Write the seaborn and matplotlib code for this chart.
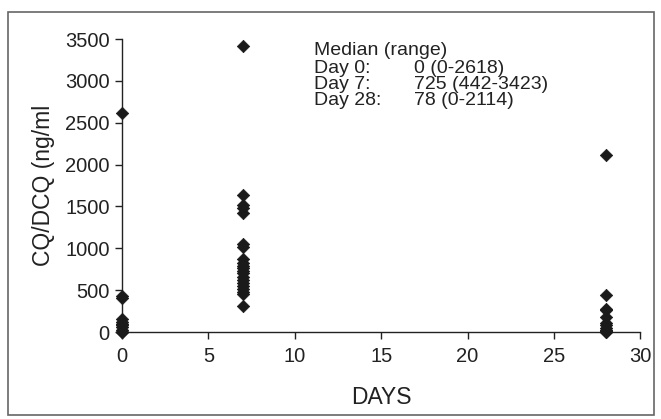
import matplotlib
matplotlib.use("Agg")
import matplotlib.pyplot as plt
import seaborn as sns
import pandas as pd
from matplotlib.patches import Rectangle

# Data
day0_values = [2618, 430, 410, 150, 120, 100, 80, 60, 30, 0, 0, 0]
day7_values = [3423, 1640, 1520, 1480, 1420, 1050, 1020, 870, 830, 790, 760,
               730, 700, 660, 620, 580, 550, 510, 480, 450, 310]
day28_values = [2114, 440, 280, 260, 180, 110, 80, 50, 30, 10, 0, 0]
days = [0, 7, 28]
x_ticks = [0, 5, 10, 15, 20, 25, 30]
y_ticks = [0, 500, 1000, 1500, 2000, 2500, 3000, 3500]
summary_labels = ["Day 0:", "Day 7:", "Day 28:"]
summary_values = ["0 (0-2618)", "725 (442-3423)", "78 (0-2114)"]

rows = []
for d, vals in zip(days, [day0_values, day7_values, day28_values]):
    for v in vals:
        rows.append({"DAYS": d, "conc": v})
df = pd.DataFrame(rows)

sns.set_style("white")
plt.rcParams['font.family'] = ['Liberation Sans', 'DejaVu Sans']

fig = plt.figure(figsize=(6.61, 4.19), dpi=100)
ax = fig.add_axes([0.1846, 0.2076, 0.784, 0.699])

sns.scatterplot(data=df, x="DAYS", y="conc", marker="D", s=40, color="#1a1a1a",
                edgecolor="#1a1a1a", linewidth=0.5, ax=ax, clip_on=False, zorder=3)

ax.set_xlim(0, 30)
ax.set_ylim(0, 3500)
ax.set_xticks(x_ticks)
ax.set_yticks(y_ticks)
ax.tick_params(axis="both", which="major", direction="out", length=5, width=1,
               labelsize=14.5, color="#222222", labelcolor="#222222", left=True, bottom=True)
ax.tick_params(axis="x", pad=6)
ax.tick_params(axis="y", pad=4)
for side in ["top", "right"]:
    ax.spines[side].set_visible(False)
for side in ["left", "bottom"]:
    ax.spines[side].set_color("#222222")
    ax.spines[side].set_linewidth(1.0)

ax.set_xlabel("DAYS", fontsize=16.5, color="#222222", labelpad=14)
ax.set_ylabel("CQ/DCQ (ng/ml", fontsize=16.5, color="#222222", labelpad=7)

# annotation block
fs = 14
ls = 0.9
ax.text(0.37, 0.99, "Median (range)", transform=ax.transAxes, fontsize=fs,
        color="#222222", va="top", ha="left")
ax.text(0.37, 0.928, "\n".join(summary_labels), transform=ax.transAxes, fontsize=fs,
        color="#222222", va="top", ha="left", linespacing=ls)
ax.text(0.563, 0.928, "\n".join(summary_values), transform=ax.transAxes, fontsize=fs,
        color="#222222", va="top", ha="left", linespacing=ls)

# outer frame
fig.patches.append(Rectangle((0.012, 0.01), 0.978, 0.962, transform=fig.transFigure,
                             fill=False, edgecolor="#666666", linewidth=1.2))

fig.savefig("out.png", dpi=100)
